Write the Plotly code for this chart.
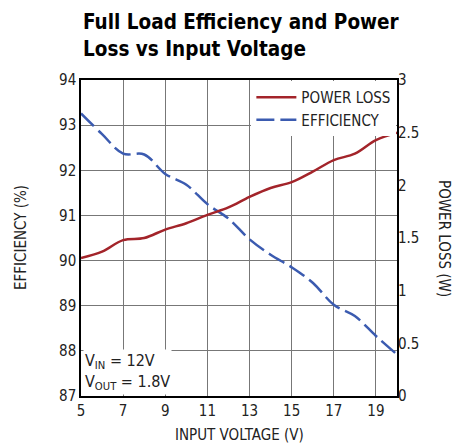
import plotly.graph_objects as go

voltage = [5, 6, 7, 8, 9, 10, 11, 12, 13, 14, 15, 16, 17, 18, 19, 20]
efficiency = [93.26, 92.8, 92.37, 92.35, 91.92, 91.68, 91.25, 90.93, 90.47,
              90.13, 89.85, 89.51, 89.02, 88.77, 88.33, 87.92]
power_loss = [1.31, 1.37, 1.48, 1.50, 1.58, 1.64, 1.72, 1.79, 1.89,
              1.975, 2.03, 2.13, 2.24, 2.30, 2.43, 2.50]

FONT = "DejaVu Sans Condensed, Liberation Sans Narrow, sans-serif"
RED = "#a3242a"
BLUE = "#3b5bb0"

fig = go.Figure()
fig.add_trace(go.Scatter(x=voltage, y=power_loss, name="POWER LOSS", yaxis="y2",
                         mode="lines", line=dict(color=RED, width=2.5, shape="spline")))
fig.add_trace(go.Scatter(x=voltage, y=efficiency, name="EFFICIENCY", yaxis="y",
                         mode="lines", line=dict(color=BLUE, width=2.5, dash="18px,6px",
                                                 shape="spline")))

fig.update_layout(
    width=463, height=439,
    margin=dict(l=73, r=74, t=72, b=51),
    paper_bgcolor="white", plot_bgcolor="white",
    font=dict(family=FONT, size=15, color="#222"),
    showlegend=True,
    legend=dict(x=0.998, y=0.997, xanchor="right", yanchor="top", bgcolor="white",
                font=dict(size=15, family=FONT), tracegroupgap=0,
                borderwidth=0, itemwidth=40),
    xaxis=dict(range=[5, 20], tick0=5, dtick=2, showgrid=True, gridcolor="#777",
               gridwidth=1, showline=True, linecolor="black", linewidth=1.5,
               mirror=True, ticks="", zeroline=False, automargin=False),
    yaxis=dict(range=[87, 94], dtick=1, showgrid=True, gridcolor="#777", gridwidth=1,
               showline=True, linecolor="black", linewidth=1.5, mirror=True,
               ticks="", zeroline=False, automargin=False),
    yaxis2=dict(range=[0, 3], dtick=0.5, overlaying="y", side="right", showgrid=False,
                showline=False, ticks="", zeroline=False, automargin=False),
    annotations=[
        dict(text="<b>Full Load Efficiency and Power<br>Loss vs Input Voltage</b>",
             xref="paper", yref="paper", x=0, y=1, yshift=72, xanchor="left",
             yanchor="top", align="left", showarrow=False,
             font=dict(size=20.5, family=FONT, color="black")),
        dict(text="EFFICIENCY (%)", xref="paper", yref="paper", x=0, y=0.5,
             xshift=-71, textangle=-90, showarrow=False, font=dict(size=15)),
        dict(text="POWER LOSS (W)", xref="paper", yref="paper", x=1, y=0.5,
             xshift=58, textangle=90, showarrow=False, font=dict(size=15)),
        dict(text="INPUT VOLTAGE (V)", xref="paper", yref="paper", x=0.5, y=0,
             yshift=-39, yanchor="middle", showarrow=False, font=dict(size=15)),
        dict(text="V<sub>IN</sub> = 12V<br>V<sub>OUT</sub> = 1.8V", xref="x", yref="y",
             x=5, y=87, xanchor="left", yanchor="bottom", align="left",
             showarrow=False, bgcolor="white", xshift=2, yshift=1,
             font=dict(size=16)),
    ],
)

fig.write_html("out.html")
